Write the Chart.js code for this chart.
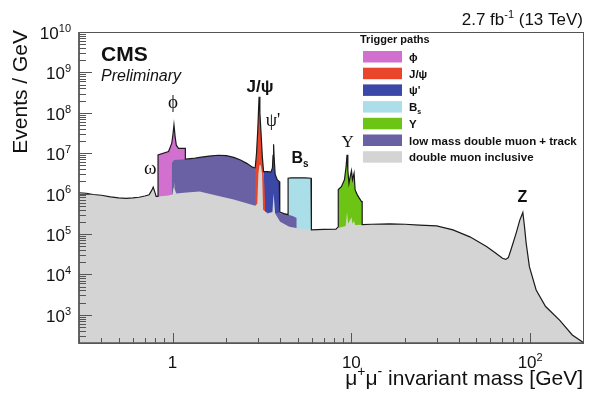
<!DOCTYPE html>
<html>
<head>
<meta charset="utf-8">
<title>Dimuon invariant mass spectrum</title>
<script src="https://cdn.jsdelivr.net/npm/chart.js@4.4.1/dist/chart.umd.min.js"></script>
<style>
  html, body { margin: 0; padding: 0; background: #fff; }
  #wrap { width: 589px; height: 395px; }
</style>
</head>
<body>
<div id="wrap"><canvas id="massChart" width="589" height="395"></canvas></div>
<script>
const SANS = '"Liberation Sans", Arial, Helvetica, sans-serif';
const SERIF = '"Liberation Serif", "Times New Roman", serif';

// axis ranges: mass in GeV, events / GeV
const massRange = [0.3, 200];
const eventsRange = [200, 1e10];
const yExponents = [3, 4, 5, 6, 7, 8, 9, 10];
const xTickMass = [1, 10, 100];
const xTickText = ['1', '10', '10^{2}'];

// [mass, events/GeV] pairs
const lowMassEdge = [
  [0.30, 1.05e6], [0.33, 1.02e6], [0.36, 9.5e5], [0.40, 9.1e5], [0.45, 8.3e5],
  [0.50, 7.8e5], [0.55, 7.6e5], [0.60, 7.8e5], [0.65, 8.1e5], [0.70, 8.7e5],
  [0.74, 9.3e5], [0.765, 1.2e6], [0.78, 1.45e6], [0.795, 1.12e6], [0.81, 8.5e5],
  [0.83, 8.5e5]
];
const highMassTail = [
  [11.5, 1.7e5], [13, 1.74e5], [16.4, 1.78e5], [20, 1.74e5], [24, 1.66e5],
  [30, 1.58e5], [37, 1.26e5], [46, 8.5e4], [57, 4.9e4], [64.6, 3.3e4],
  [70, 2.5e4], [73, 2.35e4], [75.5, 2.6e4], [78, 4.0e4], [83.5, 1.05e5],
  [87.5, 2.2e5], [91, 3.4e5], [93, 1.5e5], [95, 5.9e4], [99, 1.55e4],
  [108, 4.1e3], [122, 1.6e3], [146, 740], [172, 316], [200, 200]
];
const totalMid = [
  [0.83, 9.1e6], [0.95, 1.1e7], [0.99, 1.74e7], [1.005, 2.8e7], [1.019, 5.0e7],
  [1.035, 2.5e7], [1.05, 1.58e7], [1.08, 1.32e7], [1.18, 1.32e7], [1.18, 7.1e6],
  [1.3, 7.4e6], [1.42, 7.9e6], [1.6, 8.5e6], [1.8, 8.9e6], [2.0, 8.7e6],
  [2.2, 7.9e6], [2.4, 6.8e6], [2.6, 5.6e6], [2.8, 4.5e6], [2.9, 4.3e6],
  [2.95, 1.0e7], [3.0, 4.0e7], [3.03, 1.3e8], [3.05, 2.5e8], [3.08, 1.0e8],
  [3.12, 3.7e7], [3.18, 8.0e6], [3.23, 3.5e6], [3.4, 3.5e6], [3.55, 3.4e6],
  [3.62, 4.3e6], [3.65, 8.9e6], [3.675, 1.66e7], [3.7, 7.9e6], [3.75, 3.0e6],
  [3.85, 2.2e6], [3.95, 2.0e6], [3.98, 3.5e5], [4.2, 3.2e5], [4.43, 3.0e5],
  [4.43, 2.4e6], [4.6, 2.45e6], [5.5, 2.45e6], [5.95, 2.4e6], [5.98, 1.26e5],
  [7.0, 1.3e5], [8.2, 1.32e5], [8.45, 1.5e5], [8.45, 1.26e6], [8.8, 1.48e6],
  [9.15, 2.2e6], [9.35, 4.7e6], [9.46, 9.1e6], [9.56, 3.8e6], [9.7, 1.78e6],
  [9.85, 2.6e6], [10.02, 3.7e6], [10.15, 2.2e6], [10.36, 3.2e6], [10.5, 1.23e6],
  [10.8, 9.3e5], [11.1, 7.6e5], [11.4, 6.3e5], [11.5, 6.3e5]
];
const inclusiveMid = [
  [0.95, 8.9e5], [1.0, 9.5e5], [1.012, 1.4e6], [1.019, 2.0e6], [1.028, 1.3e6],
  [1.05, 1.0e6], [1.2, 1.07e6], [1.42, 1.12e6], [1.76, 8.9e5], [2.2, 7.1e5],
  [2.6, 5.8e5], [2.9, 5.0e5], [2.98, 5.6e5], [3.02, 3.0e6], [3.06, 5.0e6],
  [3.12, 5.0e6], [3.17, 3.0e6], [3.21, 4.0e5], [3.4, 3.2e5], [3.62, 3.5e5],
  [3.675, 1.0e6], [3.75, 3.2e5], [4.0, 2.0e5], [4.5, 1.5e5], [5.0, 1.38e5],
  [5.98, 1.26e5], [7.0, 1.3e5], [8.2, 1.32e5], [8.45, 1.4e5], [9.3, 1.58e5],
  [9.46, 3.5e5], [9.6, 1.78e5], [10.02, 2.6e5], [10.15, 1.8e5], [10.36, 2.1e5],
  [10.5, 1.66e5]
];
const phiPath = [
  [0.83, 8.5e5], [0.83, 9.1e6], [0.95, 1.1e7], [0.99, 1.74e7], [1.005, 2.8e7],
  [1.019, 5.0e7], [1.035, 2.5e7], [1.05, 1.58e7], [1.08, 1.32e7], [1.18, 1.32e7],
  [1.18, 1.0e6]
];
const jpsiPath = [
  [2.9, 5e5], [2.9, 4.3e6], [2.95, 1.0e7], [3.0, 4.0e7], [3.03, 1.3e8],
  [3.05, 2.5e8], [3.08, 1.0e8], [3.12, 3.7e7], [3.18, 8.0e6], [3.23, 3.5e6],
  [3.27, 1.4e6], [3.31, 3e5]
];
const psi2sPath = [
  [3.22, 3e5], [3.22, 3.5e6], [3.4, 3.5e6], [3.55, 3.4e6], [3.62, 4.3e6],
  [3.65, 8.9e6], [3.675, 1.66e7], [3.7, 7.9e6], [3.75, 3.0e6], [3.85, 2.2e6],
  [3.95, 2.0e6], [3.98, 2.0e5]
];
const bsPath = [
  [4.43, 2e5], [4.43, 2.4e6], [4.6, 2.45e6], [5.5, 2.45e6], [5.95, 2.4e6],
  [5.98, 1.26e5]
];
const upsilonPath = [
  [8.45, 1.4e5], [8.45, 1.26e6], [8.8, 1.48e6], [9.15, 2.2e6], [9.35, 4.7e6],
  [9.46, 9.1e6], [9.56, 3.8e6], [9.7, 1.78e6], [9.85, 2.6e6], [10.02, 3.7e6],
  [10.15, 2.2e6], [10.36, 3.2e6], [10.5, 1.23e6], [10.8, 9.3e5], [11.1, 7.6e5],
  [11.4, 6.3e5], [11.5, 6.3e5], [11.5, 1.7e5]
];
const trackPath = [
  [0.99, 1.0e6], [0.99, 5.6e6], [1.02, 6.8e6], [1.18, 7.1e6], [1.3, 7.4e6],
  [1.42, 7.9e6], [1.6, 8.5e6], [1.8, 8.9e6], [2.0, 8.7e6], [2.2, 7.9e6],
  [2.4, 6.8e6], [2.6, 5.6e6], [2.8, 4.5e6], [2.95, 4.0e6], [3.1, 3.0e6],
  [3.2, 1.0e6], [3.3, 3.5e5], [3.6, 3.3e5], [3.9, 3.3e5], [4.2, 3.2e5],
  [4.43, 3.0e5], [4.7, 2.8e5], [4.95, 2.5e5], [4.95, 1.3e5]
];
const inclusivePath = lowMassEdge.concat(inclusiveMid, highMassTail);
const totalPath = lowMassEdge.concat(totalMid, highMassTail);

// resonance names and where they sit
const peakNames = ['ω', 'ϕ', 'J/ψ', "ψ'", 'B_{s}', 'Υ', 'Z'];
const peakMass = [0.75, 1.006, 3.085, 3.65, 5.16, 9.52, 90.6];
const peakLevel = [3.0e6, 1.31e8, 3.18e8, 4.7e7, 5.7e6, 1.42e7, 6.2e5];
const peakFonts = [
  'normal 19px ' + SERIF, 'normal 19px ' + SERIF, 'bold 17px ' + SANS,
  'normal 18px ' + SERIF, 'bold 16px ' + SANS, 'normal 17px ' + SERIF,
  'bold 16px ' + SANS
];

function pts(pairs) {
  return pairs.map(p => ({ x: p[0], y: p[1] }));
}

function area(label, pairs, color, order) {
  return {
    label: label,
    data: pts(pairs),
    backgroundColor: color,
    borderColor: 'rgba(0,0,0,0)',
    borderWidth: 0,
    fill: 'start',
    order: order,
    inLegend: true
  };
}

// tiny ROOT-like text: "^{..}" superscript, "_{..}" subscript
function texParts(s) {
  const out = [];
  const re = /([\^_])\{([^}]*)\}/g;
  let last = 0, m;
  while ((m = re.exec(s))) {
    if (m.index > last) out.push({ t: s.slice(last, m.index), k: 0 });
    out.push({ t: m[2], k: m[1] === '^' ? 1 : -1 });
    last = re.lastIndex;
  }
  if (last < s.length) out.push({ t: s.slice(last), k: 0 });
  return out;
}

function drawTex(ctx, s, x, y, font, align) {
  // font like "bold 17px Family"
  const mm = font.match(/^(.*?)(\d+(?:\.\d+)?)px (.*)$/);
  const pre = mm[1], size = parseFloat(mm[2]), fam = mm[3];
  const small = Math.round(size * 0.65);
  const parts = texParts(s);
  let w = 0;
  parts.forEach(p => {
    ctx.font = pre + (p.k ? small : size) + 'px ' + fam;
    p.w = ctx.measureText(p.t).width;
    w += p.w;
  });
  let cx = align === 'right' ? x - w : align === 'center' ? x - w / 2 : x;
  ctx.textAlign = 'left';
  ctx.textBaseline = 'alphabetic';
  parts.forEach(p => {
    ctx.font = pre + (p.k ? small : size) + 'px ' + fam;
    const dy = p.k === 1 ? -size * 0.42 : p.k === -1 ? size * 0.25 : 0;
    ctx.fillText(p.t, cx, y + dy);
    cx += p.w;
  });
}

const cmsDecor = {
  id: 'cmsDecor',
  afterDatasetsDraw(chart) {
    const { ctx, chartArea: a, scales: { x, y } } = chart;
    ctx.save();
    ctx.strokeStyle = '#555';
    ctx.lineWidth = 1;
    ctx.strokeRect(a.left, a.top + 0.5, a.right - a.left - 0.5, a.bottom - a.top);

    // ticks point inwards, ROOT style
    ctx.beginPath();
    for (let e = 2; e <= 10; e++) {
      for (let k = 1; k <= 9; k++) {
        const v = k * Math.pow(10, e);
        if (v < eventsRange[0] || v > eventsRange[1]) continue;
        const py = Math.round(y.getPixelForValue(v)) + 0.5;
        ctx.moveTo(a.left, py);
        ctx.lineTo(a.left + (k === 1 ? 13 : 7), py);
      }
    }
    for (let e = -1; e <= 2; e++) {
      for (let k = 1; k <= 9; k++) {
        const v = k * Math.pow(10, e);
        if (v <= massRange[0] || v >= massRange[1]) continue;
        const px = Math.round(x.getPixelForValue(v)) + 0.5;
        ctx.moveTo(px, a.bottom);
        ctx.lineTo(px, a.bottom - (k === 1 ? 10 : 5));
      }
    }
    ctx.stroke();

    ctx.lineWidth = 1.6;
    ctx.strokeStyle = '#555';
    ctx.beginPath();
    ctx.moveTo(a.left, a.top);
    ctx.lineTo(a.left, a.bottom);
    ctx.lineTo(a.right, a.bottom);
    ctx.stroke();
    ctx.restore();
  },
  afterDraw(chart) {
    const { ctx, chartArea: a, scales: { x, y } } = chart;
    ctx.save();
    ctx.fillStyle = '#111';

    yExponents.forEach(e => {
      const py = y.getPixelForValue(Math.pow(10, e));
      drawTex(ctx, '10^{' + e + '}', a.left - 8, py + 7, 'normal 17px ' + SANS, 'right');
    });
    xTickMass.forEach((m, i) => {
      drawTex(ctx, xTickText[i], x.getPixelForValue(m), a.bottom + 25, 'normal 17px ' + SANS, 'center');
    });

    drawTex(ctx, 'μ^{+}μ^{-} invariant mass [GeV]', a.right - 1, 385, 'normal 21px ' + SANS, 'right');
    ctx.save();
    ctx.translate(27, 0);
    ctx.rotate(-Math.PI / 2);
    ctx.font = 'normal 21px ' + SANS;
    ctx.textAlign = 'right';
    ctx.fillText('Events / GeV', -30, 0);
    ctx.restore();

    drawTex(ctx, '2.7 fb^{-1} (13 TeV)', a.right - 1, 25, 'normal 17px ' + SANS, 'right');
    drawTex(ctx, 'CMS', a.left + 22, 61, 'bold 21px ' + SANS, 'left');
    drawTex(ctx, 'Preliminary', a.left + 22, 81, 'italic 16px ' + SANS, 'left');

    peakNames.forEach((n, i) => {
      drawTex(ctx, n, x.getPixelForValue(peakMass[i]), y.getPixelForValue(peakLevel[i]), peakFonts[i], 'center');
    });

    // legend of trigger paths
    const lx = 363, ly = 51, step = 16.7;
    drawTex(ctx, 'Trigger paths', lx - 3, 43, 'bold 11px ' + SANS, 'left');
    chart.data.datasets.filter(d => d.inLegend).forEach((d, i) => {
      const top = ly + i * step;
      ctx.fillStyle = d.backgroundColor;
      ctx.fillRect(lx, top, 39, 11.5);
      ctx.fillStyle = '#111';
      drawTex(ctx, d.label, lx + 46, top + 10, 'bold 11.5px ' + SANS, 'left');
    });
    ctx.restore();
  }
};

const datasets = [
  area('ϕ', phiPath, '#d270cf', 5),
  area('J/ψ', jpsiPath, '#e8452a', 2),
  area("ψ'", psi2sPath, '#3b48a8', 5),
  area('B_{s}', bsPath, '#aadfea', 5),
  area('Υ', upsilonPath, '#6cc414', 3),
  area('low mass double muon + track', trackPath, '#6a60a4', 4),
  area('double muon inclusive', inclusivePath, '#d4d4d4', 1),
  {
    label: 'all trigger paths',
    data: pts(totalPath),
    borderColor: '#1a1a1a',
    borderWidth: 1.2,
    fill: false,
    order: 0
  }
];

new Chart(document.getElementById('massChart'), {
  type: 'line',
  data: { datasets: datasets },
  options: {
    responsive: false,
    animation: false,
    events: [],
    layout: { padding: { left: 79, top: 32, right: 5, bottom: 52 } },
    elements: { point: { radius: 0 }, line: { tension: 0 } },
    plugins: { legend: { display: false }, tooltip: { enabled: false } },
    scales: {
      x: { type: 'logarithmic', min: massRange[0], max: massRange[1], display: false },
      y: { type: 'logarithmic', min: eventsRange[0], max: eventsRange[1], display: false }
    }
  },
  plugins: [cmsDecor]
});
</script>
</body>
</html>
